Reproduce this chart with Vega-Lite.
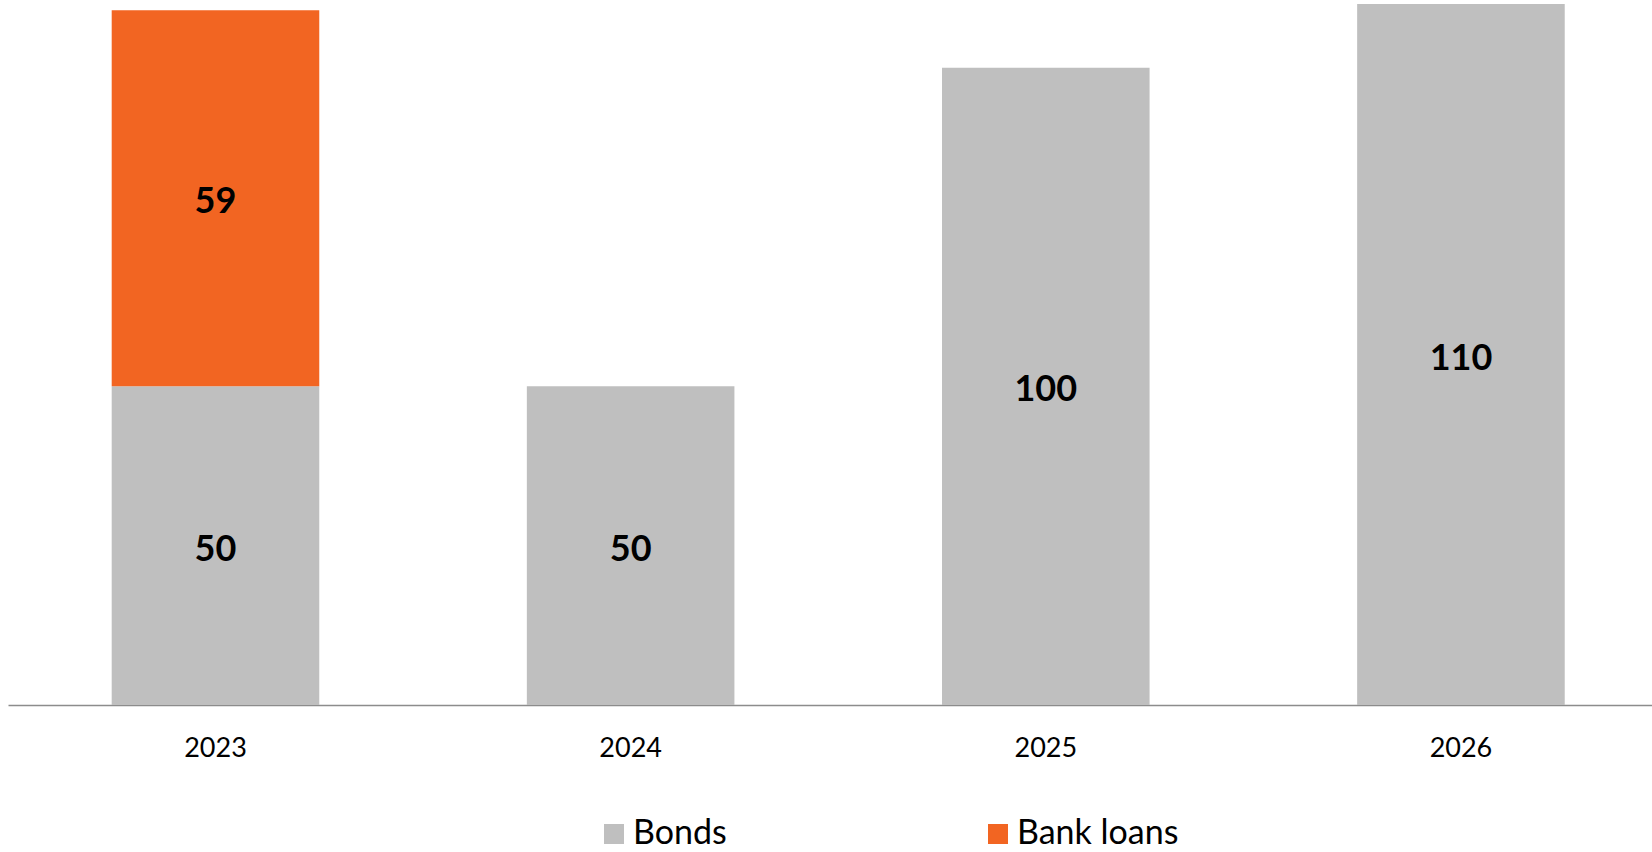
{
  "$schema": "https://vega.github.io/schema/vega-lite/v6.json",
  "width": 1644,
  "height": 701,
  "autosize": "none",
  "padding": {"left": 8, "top": 4, "right": 0, "bottom": 147},
  "background": "white",
  "config": {"view": {"stroke": null}, "font": "Lato"},
  "data": {
    "values": [
      {"year": "2023", "type": "Bonds", "value": 50},
      {"year": "2023", "type": "Bank loans", "value": 59},
      {"year": "2024", "type": "Bonds", "value": 50},
      {"year": "2025", "type": "Bonds", "value": 100},
      {"year": "2026", "type": "Bonds", "value": 110}
    ]
  },
  "transform": [
    {"calculate": "datum.type === 'Bonds' ? 0 : 1", "as": "rank"},
    {"stack": "value", "groupby": ["year"], "sort": [{"field": "rank", "order": "ascending"}], "as": ["v0", "v1"]},
    {"calculate": "(datum.v0 + datum.v1) / 2", "as": "vmid"}
  ],
  "encoding": {
    "x": {
      "field": "year", "type": "nominal", "title": null,
      "scale": {"paddingInner": 0.5, "paddingOuter": 0.23, "align": 0.543},
      "axis": {"labelAngle": 0, "ticks": false, "domainColor": "#8c8c8c", "domainWidth": 1.5, "labelFont": "Lato", "labelFontSize": 27, "labelColor": "#000000", "labelPadding": 30}
    }
  },
  "layer": [
    {
      "mark": {"type": "bar"},
      "encoding": {
        "y": {"field": "v0", "type": "quantitative", "scale": {"domain": [0, 110], "nice": false}, "axis": null},
        "y2": {"field": "v1"},
        "color": {
          "field": "type", "type": "nominal",
          "sort": ["Bonds", "Bank loans"],
          "scale": {"domain": ["Bonds", "Bank loans"], "range": ["#BFBFBF", "#F26522"]},
          "legend": {
            "title": null, "orient": "none", "direction": "horizontal",
            "legendX": 589, "legendY": 813,
            "symbolType": "square", "symbolSize": 400, "symbolStrokeWidth": 0,
            "labelFont": "Lato", "labelFontSize": 34, "labelColor": "#000000",
            "labelOffset": 2, "columnPadding": 254, "labelLimit": 400
          }
        }
      }
    },
    {
      "mark": {"type": "text", "font": "Lato", "fontWeight": "bold", "fontSize": 36, "color": "#000000", "baseline": "middle", "dy": 4},
      "encoding": {
        "y": {"field": "vmid", "type": "quantitative"},
        "text": {"field": "value", "type": "quantitative"}
      }
    }
  ]
}
